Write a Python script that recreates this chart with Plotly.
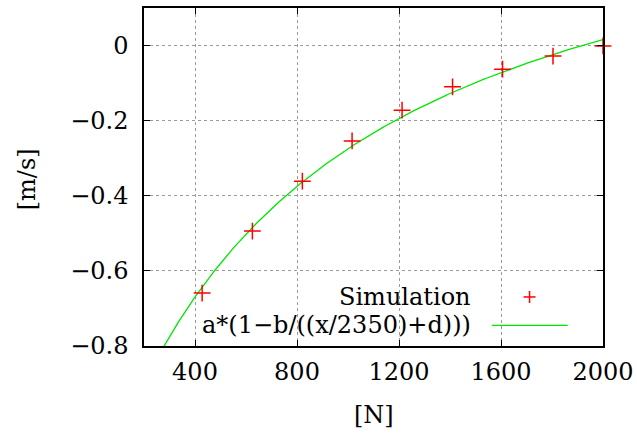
import numpy as np
import plotly.graph_objects as go

# Simulated drift velocity vs. particle count
sim_n = [428, 625, 821, 1016, 1212, 1410, 1606, 1804, 2000]
sim_v = [-0.659, -0.494, -0.361, -0.254, -0.172, -0.110, -0.063, -0.028, -0.001]

# Fit parameters for a*(1-b/((x/2350)+d))
fit_a = 0.5594
fit_b = 1.185
fit_d = 0.3691
fit_scale = 2350.0

x_ticks = [400, 800, 1200, 1600, 2000]
y_ticks = [0, -0.2, -0.4, -0.6, -0.8]
y_tick_text = ["0", "\u22120.2", "\u22120.4", "\u22120.6", "\u22120.8"]

FONT = "DejaVu Serif"
FS = 24

xf = np.linspace(200, 2000, 400)
yf = fit_a * (1 - fit_b / ((xf / fit_scale) + fit_d))

fig = go.Figure()
fig.add_trace(go.Scatter(
    x=xf, y=yf, mode="lines",
    line=dict(color="#00e600", width=1.3),
    showlegend=False, hoverinfo="skip",
))
fig.add_trace(go.Scatter(
    x=sim_n, y=sim_v, mode="markers",
    marker=dict(symbol="cross-thin", size=12, line=dict(color="#ff0000", width=1.5)),
    showlegend=False, cliponaxis=False,
))

axis_common = dict(
    showline=True, linecolor="black", linewidth=1.5, mirror="ticks",
    ticks="inside", ticklen=6, tickwidth=1, tickcolor="black",
    showgrid=True, gridcolor="#9a9a9a", griddash="dot", gridwidth=1,
    zeroline=False, automargin=False,
    tickfont=dict(family=FONT, size=FS, color="black"),
)

fig.update_xaxes(
    range=[200, 2000], tickvals=x_ticks, ticklabelstandoff=3,
    **axis_common,
)
fig.update_yaxes(
    range=[-0.8, 0.1], tickvals=y_ticks, ticktext=y_tick_text, ticklabelstandoff=9,
    **axis_common,
)

# Key drawn gnuplot-style: text right-aligned, sample to its right
key_rows = [("Simulation", 0.1451), ("a*(1\u2212b/((x/2350)+d)))", 0.0613)]
annotations = []
for label, yp in key_rows:
    annotations.append(dict(
        x=0.7175, y=yp, xref="paper", yref="paper", text=label,
        showarrow=False, xanchor="right", yanchor="middle",
        font=dict(family=FONT, size=FS, color="black"),
    ))
# Axis titles
annotations.append(dict(
    x=0.5, y=-0.205, xref="paper", yref="paper", text="[N]",
    showarrow=False, xanchor="center", yanchor="middle",
    font=dict(family=FONT, size=FS, color="black"),
))
annotations.append(dict(
    x=-0.255, y=0.493, xref="paper", yref="paper", text="[m/s]", textangle=-90,
    showarrow=False, xanchor="center", yanchor="middle",
    font=dict(family=FONT, size=FS, color="black"),
))

px_w = 459.2
px_h = 337.7
cx, cy, half = 0.840, 0.1451, 6.0
shapes = [
    dict(type="line", xref="paper", yref="paper",
         x0=cx - half / px_w, x1=cx + half / px_w, y0=cy, y1=cy,
         line=dict(color="#ff0000", width=1.5)),
    dict(type="line", xref="paper", yref="paper",
         x0=cx, x1=cx, y0=cy - half / px_h, y1=cy + half / px_h,
         line=dict(color="#ff0000", width=1.5)),
    dict(type="line", xref="paper", yref="paper",
         x0=0.758, x1=0.923, y0=0.0613, y1=0.0613,
         line=dict(color="#00e600", width=1.3)),
]

fig.update_layout(
    width=637, height=437,
    margin=dict(l=143.5, r=34.3, t=8, b=91.3),
    paper_bgcolor="white", plot_bgcolor="white",
    font=dict(family=FONT, size=FS, color="black"),
    annotations=annotations, shapes=shapes,
    showlegend=False,
)

fig.write_html("out.html")
